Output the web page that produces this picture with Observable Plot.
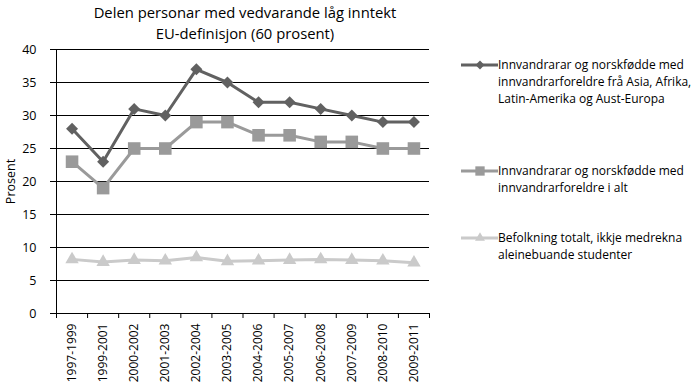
<!DOCTYPE html>
<html><head><meta charset="utf-8">
<script src="https://cdn.jsdelivr.net/npm/d3@7"></script>
<script src="https://cdn.jsdelivr.net/npm/@observablehq/plot@0.6"></script>
<style>
body{margin:0;background:#fff;}
#wrap{position:relative;width:700px;height:389px;font-family:"Open Sans",sans-serif;color:#000;}
#title{position:absolute;left:45px;width:400px;top:2px;text-align:center;font-size:14.8px;line-height:20.5px;}
.leg{position:absolute;left:461px;display:flex;align-items:flex-start;font-size:12px;line-height:17px;white-space:nowrap;}
.leg svg{flex:none;margin-right:0px;}
</style></head><body><div id="wrap"><div id="title">Delen personar med vedvarande låg inntekt<br>EU-definisjon (60 prosent)</div></div>
<script>
const periods = ["1997-1999","1999-2001","2000-2002","2001-2003","2002-2004","2003-2005","2004-2006","2005-2007","2006-2008","2007-2009","2008-2010","2009-2011"];
const seriesNames = [
  "Innvandrarar og norskfødde med innvandrarforeldre frå Asia, Afrika, Latin-Amerika og Aust-Europa",
  "Innvandrarar og norskfødde med innvandrarforeldre i alt",
  "Befolkning totalt, ikkje medrekna aleinebuande studenter"
];
const legendLines = [
  ["Innvandrarar og norskfødde med","innvandrarforeldre frå Asia, Afrika,","Latin-Amerika og Aust-Europa"],
  ["Innvandrarar og norskfødde med","innvandrarforeldre i alt"],
  ["Befolkning totalt, ikkje medrekna","aleinebuande studenter"]
];
const asiaAfrika = [28,23,31,30,37,35,32,32,31,30,29,29];
const innvandrarIAlt = [23,19,25,25,29,29,27,27,26,26,25,25];
const befolkningTotalt = [8.2,7.8,8.1,8.0,8.5,7.9,8.0,8.1,8.2,8.1,8.0,7.7];
const yTicks = [0,5,10,15,20,25,30,35,40];

const colors = ["#616161","#9a9a9a","#cacaca"];
const symbols = ["diamond2","square2","triangle2"];
const radii = [5.4,8,6.4];
const allValues = [asiaAfrika, innvandrarIAlt, befolkningTotalt];

const rows = [];
allValues.forEach((vals, s) => vals.forEach((v, i) => rows.push({s, i: i + 0.5, period: periods[i], v})));
const bySeries = s => rows.filter(d => d.s === s);

const marks = [
  Plot.gridY(yTicks, {stroke: "#000", strokeOpacity: 1, strokeWidth: 1}),
  Plot.axisY(yTicks, {tickSize: 6, tickPadding: 14, fontSize: 12.5, label: "Prosent", labelAnchor: "center", labelOffset: 50, labelArrow: "none"}),
  Plot.axisX(d3.range(periods.length + 1), {tickSize: 5, tickFormat: () => "", label: null}),
  Plot.axisX(periods.map((p, i) => i + 0.5), {tickSize: 0, tickPadding: 10, tickRotate: -90, fontSize: 12, tickFormat: x => periods[Math.round(x - 0.5)], label: null}),
  Plot.ruleX([0], {stroke: "#000"}),
  Plot.ruleY([0], {stroke: "#000"})
];
for (const s of [2,1,0]) {
  marks.push(Plot.line(bySeries(s), {x: "i", y: "v", stroke: colors[s], strokeWidth: 3}));
  marks.push(Plot.dot(bySeries(s), {x: "i", y: "v", symbol: symbols[s], r: radii[s], fill: colors[s], stroke: "none"}));
}

const chart = Plot.plot({
  width: 700, height: 389,
  marginTop: 49, marginBottom: 76, marginLeft: 56, marginRight: 271,
  style: {fontFamily: "'Open Sans', sans-serif", fontSize: "12px", background: "#fff", color: "#000"},
  x: {type: "linear", domain: [0, periods.length]},
  y: {domain: [0, 40]},
  marks
});
const wrap = document.getElementById("wrap");
wrap.insertBefore(chart, wrap.firstChild);

// legend
const legTops = [56, 162, 229];
legendLines.forEach((lines, s) => {
  const div = document.createElement("div");
  div.className = "leg";
  div.style.top = legTops[s] + "px";
  div.title = seriesNames[s];
  const sw = d3.create("svg").attr("width", 37).attr("height", 17);
  sw.append("line").attr("x1", 0).attr("x2", 37).attr("y1", 9).attr("y2", 9).attr("stroke", colors[s]).attr("stroke-width", 3);
  sw.append("path").attr("transform", "translate(19,9)").attr("fill", colors[s])
    .attr("d", d3.symbol(s === 0 ? d3.symbolDiamond2 : s === 1 ? d3.symbolSquare2 : d3.symbolTriangle2, Math.PI * radii[s] * radii[s] * 0.55)());
  div.appendChild(sw.node());
  const t = document.createElement("div");
  t.innerHTML = lines.join("<br>");
  div.appendChild(t);
  wrap.appendChild(div);
});
</script>
</body></html>
